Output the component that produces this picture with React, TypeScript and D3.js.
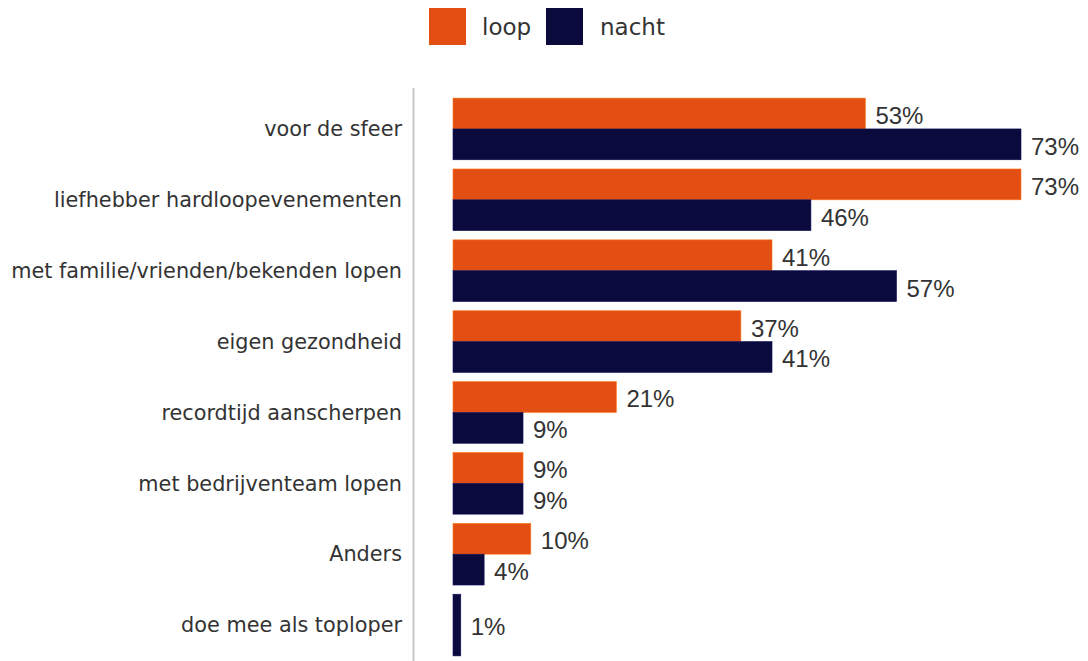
import React, { useEffect, useRef } from 'react'
import * as d3 from 'd3'

const categories = [
  'voor de sfeer',
  'liefhebber hardloopevenementen',
  'met familie/vrienden/bekenden lopen',
  'eigen gezondheid',
  'recordtijd aanscherpen',
  'met bedrijventeam lopen',
  'Anders',
  'doe mee als toploper',
]
const seriesNames = ['loop', 'nacht']
const loopValues: (number | null)[] = [53, 73, 41, 37, 21, 9, 10, null]
const nachtValues: (number | null)[] = [73, 46, 57, 41, 9, 9, 4, 1]
const colors = ['#e34f13', '#0a0a3c']

const W = 1088
const H = 661

const App = () => {
  const ref = useRef<SVGSVGElement>(null)

  useEffect(() => {
    const svg = d3.select(ref.current)
    svg.selectAll('*').remove()

    const x0 = 453
    const x = d3.scaleLinear().domain([0, 73]).range([x0, 1021])
    const y = d3.scaleBand().domain(categories).range([93.5, 660.5]).paddingInner(0.13).paddingOuter(0.065)

    // legend
    const leg = svg.append('g')
    const legItems = [
      { name: seriesNames[0], x: 429, tx: 482 },
      { name: seriesNames[1], x: 546, tx: 600 },
    ]
    legItems.forEach((d, i) => {
      leg.append('rect').attr('x', d.x).attr('y', 8).attr('width', 37).attr('height', 37)
        .attr('fill', colors[i])
      leg.append('text').attr('x', d.tx).attr('y', 27).attr('dy', '0.35em')
        .attr('font-family', 'DejaVu Sans').attr('font-size', 23).attr('fill', '#333')
        .text(d.name)
    })

    // axis line
    svg.append('line').attr('x1', 413.5).attr('x2', 413.5).attr('y1', 88).attr('y2', H)
      .attr('stroke', '#c8c8c8').attr('stroke-width', 2)

    // category labels
    svg.append('g').selectAll('text').data(categories).join('text')
      .attr('x', 402)
      .attr('y', d => (y(d) as number) + y.bandwidth() / 2)
      .attr('dy', '0.35em')
      .attr('text-anchor', 'end')
      .attr('font-family', 'DejaVu Sans')
      .attr('font-size', 20.8)
      .attr('fill', '#333')
      .text(d => d)

    const rows = categories.map((c, i) => {
      const vals = [loopValues[i], nachtValues[i]]
        .map((v, s) => ({ v, s }))
        .filter(d => d.v !== null) as { v: number, s: number }[]
      return { c, vals }
    })

    rows.forEach(row => {
      const sub = d3.scaleBand().domain(row.vals.map(d => String(d.s)))
        .range([y(row.c) as number, (y(row.c) as number) + y.bandwidth()])
      const g = svg.append('g')
      g.selectAll('rect').data(row.vals).join('rect')
        .attr('x', x0)
        .attr('y', d => sub(String(d.s)) as number)
        .attr('width', d => x(d.v) - x0)
        .attr('height', sub.bandwidth())
        .attr('fill', d => colors[d.s])
        .attr('stroke', d => d3.color(colors[d.s])!.brighter(1.2).toString())
        .attr('stroke-width', 0.6)
      g.selectAll('text').data(row.vals).join('text')
        .attr('x', d => x(d.v) + 10)
        .attr('y', d => (sub(String(d.s)) as number) + sub.bandwidth() / 2 + 2)
        .attr('dy', '0.35em')
        .attr('font-family', 'Liberation Sans, Arial')
        .attr('font-size', 24)
        .attr('fill', '#333')
        .text(d => d.v + '%')
    })
  }, [])

  return (
    <svg ref={ref} width={W} height={H} style={{ position: 'absolute', left: 0, top: 0, background: '#fff' }} />
  )
}

export default App
